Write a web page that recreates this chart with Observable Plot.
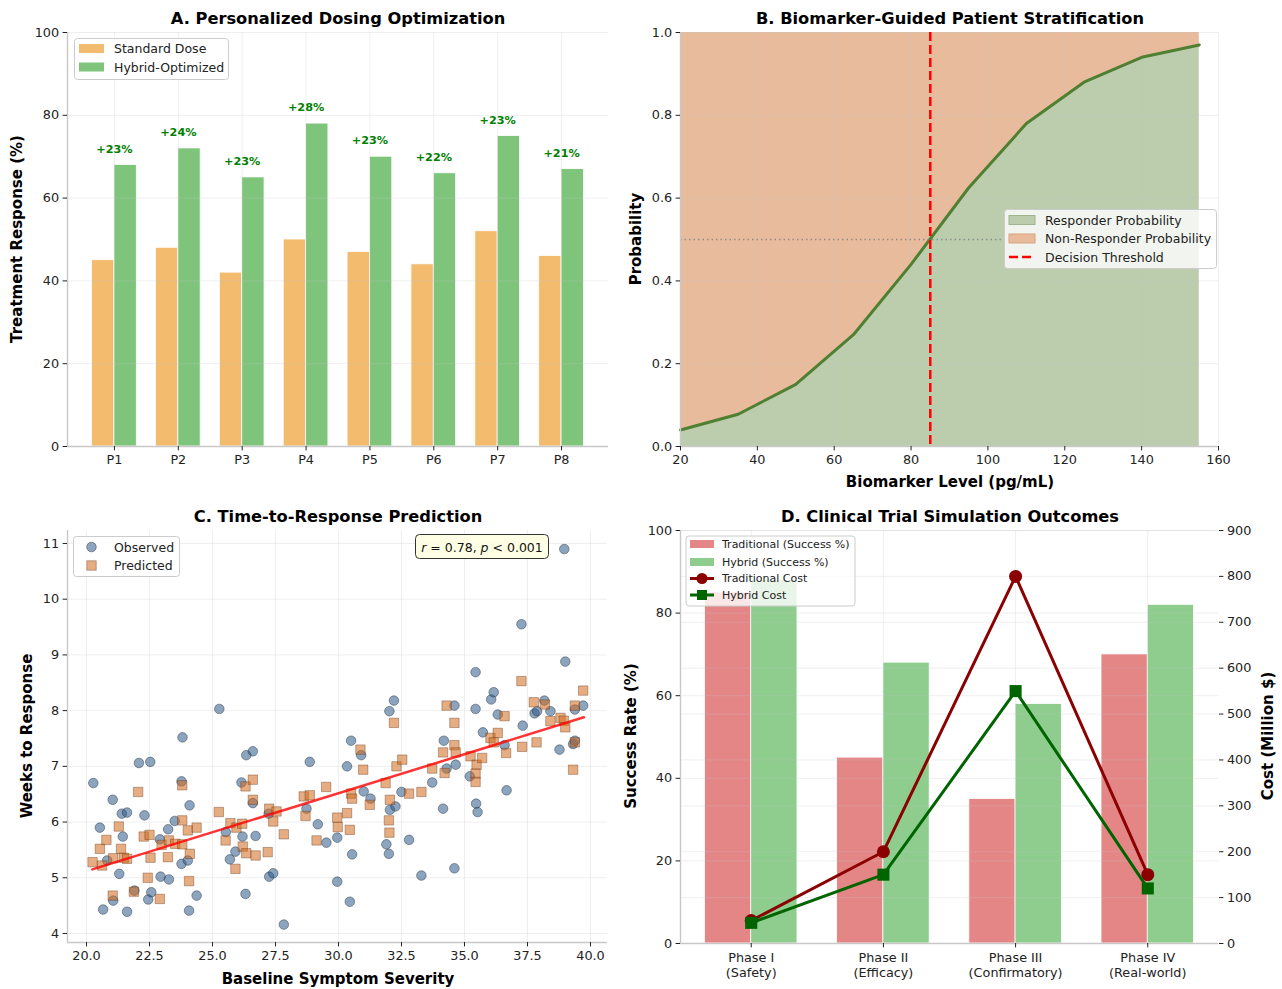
<!DOCTYPE html>
<html><head><meta charset="utf-8">
<script src="https://cdn.jsdelivr.net/npm/d3@7"></script>
<script src="https://cdn.jsdelivr.net/npm/@observablehq/plot@0.6"></script>
<style>
body{margin:0;background:#fff;}
#root{position:relative;width:1282px;height:989px;overflow:hidden;background:#fff;}
</style></head><body><div id="root"></div><script>
// ---------- Panel A data ----------
const patients = ["P1","P2","P3","P4","P5","P6","P7","P8"];
const standardDose = [45,48,42,50,47,44,52,46];
const hybridOptimized = [68,72,65,78,70,66,75,67];
// ---------- Panel B data ----------
const biomarkerLevel = [20,35,50,65,80,95,110,125,140,155];
const responderProb = [0.04,0.078,0.15,0.27,0.44,0.625,0.78,0.88,0.94,0.97];
const decisionThreshold = 85;
// ---------- Panel C data ----------
const observedX = [20.27,20.53,20.66,20.82,21.04,21.06,21.30,21.40,21.44,21.61,
  21.61,21.90,22.08,22.30,22.45,22.53,22.57,22.91,22.94,23.24,
  23.27,23.50,23.77,23.77,23.81,24.09,24.02,24.07,24.37,25.27,
  25.53,25.69,25.91,26.15,26.19,26.31,26.34,26.60,26.60,26.71,
  27.23,27.25,27.41,27.83,28.73,28.86,29.18,29.52,29.95,29.95,
  30.34,30.45,30.50,30.54,30.90,31.00,31.27,31.90,32.00,32.02,
  32.04,32.20,32.26,32.50,32.80,33.29,33.72,34.15,34.18,34.29,
  34.60,34.60,34.65,35.21,35.44,35.44,35.46,35.52,35.73,36.06,
  36.16,36.32,36.59,36.67,37.26,37.31,37.78,37.88,38.17,38.41,
  38.77,38.96,39.00,39.31,39.38,39.38,39.71];
const observedY = [6.70,5.90,4.43,5.31,6.40,4.59,5.07,6.15,5.74,6.17,
  4.39,4.77,7.06,6.12,4.61,7.08,4.74,5.69,5.02,5.87,
  4.97,6.02,5.25,6.73,7.52,6.30,5.31,4.41,4.68,8.03,
  5.82,5.33,5.47,6.71,5.74,4.71,7.20,7.27,6.34,5.75,
  6.15,5.02,5.08,4.16,6.24,7.08,5.96,5.63,5.72,4.93,
  7.00,4.57,7.46,5.42,7.20,6.55,6.42,5.60,5.43,7.99,
  6.22,8.18,6.28,6.54,5.68,5.04,6.71,6.24,7.46,6.96,
  8.09,5.17,7.03,6.82,8.69,8.03,6.33,6.18,7.61,8.20,
  8.33,7.93,7.38,6.57,9.55,7.73,7.95,7.99,8.18,7.99,
  7.30,10.90,8.88,7.40,7.46,8.02,8.09];
const predictedX = [20.24,20.53,20.62,20.79,21.04,21.06,21.28,21.37,21.48,21.61,
  21.88,22.05,22.27,22.50,22.54,22.43,22.91,22.98,23.23,23.27,
  23.52,23.80,23.80,23.80,24.02,24.10,24.07,24.37,25.25,25.52,
  25.71,25.91,25.95,26.18,26.20,26.31,26.34,26.60,26.60,26.71,
  27.19,27.25,27.41,27.54,27.83,28.62,28.86,28.69,29.13,29.51,
  29.95,29.97,30.34,30.45,30.50,30.54,30.87,30.98,31.24,31.87,
  32.04,32.00,32.02,32.20,32.30,32.53,32.80,33.29,33.72,34.15,
  34.21,34.29,34.60,34.60,34.65,35.24,35.48,35.44,35.44,35.70,
  36.03,36.16,36.32,36.59,36.65,37.26,37.29,37.75,37.86,38.19,
  38.41,38.81,38.94,39.00,39.31,39.38,39.38,39.71];
const predictedY = [5.28,5.52,5.22,5.68,4.68,5.35,5.92,5.52,5.36,5.34,
  4.75,6.54,5.74,5.77,5.36,5.00,4.62,5.59,5.37,5.67,
  5.61,5.60,6.03,6.66,5.85,5.43,4.94,5.90,6.18,5.67,
  5.98,5.16,5.90,5.97,5.56,6.64,5.44,6.76,6.40,5.40,
  5.46,6.24,6.01,6.19,5.78,6.46,6.48,6.11,5.67,6.63,
  6.08,5.91,6.16,5.86,6.51,6.42,7.30,6.94,6.31,6.70,
  6.40,6.03,5.81,7.78,7.00,7.12,6.51,6.54,6.96,7.25,
  6.88,8.09,7.78,7.38,7.25,7.18,7.03,6.87,6.72,7.15,
  7.51,7.43,7.60,7.90,7.24,8.53,7.35,8.15,7.43,8.11,
  7.81,7.87,7.82,7.70,6.94,8.09,7.43,8.36];
const trendX = [20.23, 39.74];
const trendY = [5.15, 7.88];
// ---------- Panel D data ----------
const phases = ["Phase I\n(Safety)","Phase II\n(Efficacy)","Phase III\n(Confirmatory)","Phase IV\n(Real-world)"];
const tradSuccess = [85,45,35,70];
const hybridSuccess = [88,68,58,82];
const tradCost = [50,200,800,150];
const hybridCost = [45,150,550,120];

// ---------- helpers ----------
const root = document.getElementById("root");
const FONT = "DejaVu Sans, sans-serif";
function addPlot(plot, left, top){
  plot.style.position = "absolute";
  plot.style.left = left + "px";
  plot.style.top = top + "px";
  root.appendChild(plot);
}
const baseStyle = {fontFamily: FONT, fontSize: "12.8px", color: "#222", background: "transparent", overflow: "visible"};
const grid = {stroke: "#c4c4c4", strokeOpacity: 0.35, strokeWidth: 0.8};
const spine = {stroke: "#c8c8c8", strokeWidth: 1.4};
const tick = {tickSize: 4.4, tickPadding: 4, fontSize: 12.8, label: null};
const BW = 0.35;

// ---------- Panel A ----------
const aRows = patients.map((p, i) => ({i, p, s: standardDose[i], h: hybridOptimized[i]}));
const aX = [-0.735, 7.735];
addPlot(Plot.plot({
  width: 640, height: 490, marginLeft: 67, marginRight: 32, marginTop: 32, marginBottom: 44,
  style: baseStyle,
  x: {domain: aX}, y: {domain: [0, 100]},
  marks: [
    Plot.rect(aRows, {x1: d => d.i - BW, x2: "i", y1: 0, y2: "s", fill: "#f2bb6e", stroke: "#fff", strokeWidth: 0.8}),
    Plot.rect(aRows, {x1: "i", x2: d => d.i + BW, y1: 0, y2: "h", fill: "#7ec57b", stroke: "#fff", strokeWidth: 0.8}),
    Plot.ruleY(d3.range(0, 101, 20), grid),
    Plot.ruleX(aRows, {x: "i", ...grid}),
    Plot.text(aRows, {x: "i", y: d => d.h + 2, dy: -4, text: d => `+${d.h - d.s}%`, lineAnchor: "bottom", fill: "#008000", fontWeight: "bold", fontSize: 11.25}),
    Plot.ruleX([aX[0]], spine),
    Plot.ruleY([0], spine),
    Plot.axisY({...tick, ticks: d3.range(0, 101, 20)}),
    Plot.axisX({...tick, ticks: aRows.map(d => d.i), tickFormat: i => patients[i]})
  ]
}), 0, 0);

// ---------- Panel B ----------
const bRows = biomarkerLevel.map((x, i) => ({x, p: responderProb[i]}));
addPlot(Plot.plot({
  width: 642, height: 490, marginLeft: 40, marginRight: 64, marginTop: 32, marginBottom: 44,
  style: baseStyle,
  x: {domain: [20, 160]}, y: {domain: [0, 1]},
  marks: [
    Plot.areaY(bRows, {x: "x", y1: 0, y2: "p", fill: "#bccdae"}),
    Plot.areaY(bRows, {x: "x", y1: "p", y2: 1, fill: "#e8bb9d"}),
    Plot.ruleY(d3.range(0, 1.01, 0.2), grid),
    Plot.ruleX(d3.range(20, 161, 20), grid),
    Plot.line(bRows, {x: "x", y: "p", stroke: "#4f7f30", strokeWidth: 3}),
    Plot.ruleY([0.5], {stroke: "#808080", strokeOpacity: 0.8, strokeWidth: 1.3, strokeDasharray: "1.5,3"}),
    Plot.ruleX([decisionThreshold], {stroke: "#ff0000", strokeWidth: 2.5, strokeDasharray: "9,4"}),
    Plot.ruleX([20], spine),
    Plot.ruleY([0], spine),
    Plot.axisY({...tick, ticks: d3.range(0, 1.01, 0.2), tickFormat: d3.format(".1f")}),
    Plot.axisX({...tick, ticks: d3.range(20, 161, 20)})
  ]
}), 640, 0);

// ---------- Panel C ----------
const obs = observedX.map((x, i) => ({x, y: observedY[i]}));
const pred = predictedX.map((x, i) => ({x, y: predictedY[i]}));
const trend = trendX.map((x, i) => ({x, y: trendY[i]}));
const cX = [19.246, 40.675], cY = [3.838, 11.233];
addPlot(Plot.plot({
  width: 640, height: 499, marginLeft: 67, marginRight: 33, marginTop: 40, marginBottom: 47,
  style: baseStyle,
  x: {domain: cX}, y: {domain: cY},
  marks: [
    Plot.ruleY(d3.range(4, 11.01, 1), grid),
    Plot.ruleX(d3.range(20, 40.01, 2.5), grid),
    Plot.dot(obs, {x: "x", y: "y", r: 4.8, fill: "#2e5a88", fillOpacity: 0.55, stroke: "#1c2c3c", strokeOpacity: 0.55, strokeWidth: 0.8}),
    Plot.dot(pred, {x: "x", y: "y", symbol: "square", r: 5.3, fill: "#d2691e", fillOpacity: 0.55, stroke: "#5a2a0a", strokeOpacity: 0.45, strokeWidth: 0.8}),
    Plot.line(trend, {x: "x", y: "y", stroke: "#ff0000", strokeOpacity: 0.8, strokeWidth: 2.5}),
    Plot.ruleX([cX[0]], spine),
    Plot.ruleY([cY[0]], spine),
    Plot.axisY({...tick, ticks: d3.range(4, 11.01, 1)}),
    Plot.axisX({...tick, ticks: d3.range(20, 40.01, 2.5), tickFormat: d3.format(".1f")})
  ]
}), 0, 490);

// ---------- Panel D ----------
const dRows = phases.map((p, i) => ({i, p, ts: tradSuccess[i], hs: hybridSuccess[i], tc: tradCost[i], hc: hybridCost[i]}));
const dX = [-0.535, 3.535];
addPlot(Plot.plot({
  width: 642, height: 499, marginLeft: 40, marginRight: 64, marginTop: 40, marginBottom: 46,
  style: baseStyle,
  x: {domain: dX}, y: {domain: [0, 100]},
  marks: [
    Plot.rect(dRows, {x1: d => d.i - BW, x2: "i", y1: 0, y2: "ts", fill: "#e48686", stroke: "#fff", strokeWidth: 0.8}),
    Plot.rect(dRows, {x1: "i", x2: d => d.i + BW, y1: 0, y2: "hs", fill: "#8ecd8e", stroke: "#fff", strokeWidth: 0.8}),
    Plot.ruleY(d3.range(0, 101, 20), grid),
    Plot.ruleX(dRows, {x: "i", ...grid}),
    Plot.ruleX([dX[0]], spine),
    Plot.ruleY([0], spine),
    Plot.axisY({...tick, ticks: d3.range(0, 101, 20)}),
    Plot.axisX({...tick, ticks: dRows.map(d => d.i), tickFormat: i => phases[i], lineHeight: 1.16})
  ]
}), 640, 490);
addPlot(Plot.plot({
  width: 642, height: 499, marginLeft: 40, marginRight: 64, marginTop: 40, marginBottom: 46,
  style: baseStyle,
  x: {domain: dX, axis: null}, y: {domain: [0, 900]},
  marks: [
    Plot.ruleY(d3.range(100, 901, 100), grid),
    Plot.line(dRows, {x: "i", y: "tc", stroke: "#8b0000", strokeWidth: 3}),
    Plot.dot(dRows, {x: "i", y: "tc", r: 6.5, fill: "#8b0000"}),
    Plot.line(dRows, {x: "i", y: "hc", stroke: "#006400", strokeWidth: 3}),
    Plot.dot(dRows, {x: "i", y: "hc", symbol: "square", r: 6.8, fill: "#006400"}),
    Plot.axisY({...tick, anchor: "right", ticks: d3.range(0, 901, 100)})
  ]
}), 640, 490);

// ---------- titles, labels, legends ----------
const svg = d3.select(root).append("svg")
  .attr("width", 1282).attr("height", 989)
  .style("position", "absolute").style("left", "0px").style("top", "0px")
  .style("font-family", FONT).style("pointer-events", "none");
function txt(x, y, s, {size = 15, weight = "bold", rotate = 0, anchor = "middle", fill = "#000"} = {}) {
  const t = svg.append("text").attr("x", x).attr("y", y).attr("text-anchor", anchor)
    .attr("dominant-baseline", "central").attr("font-size", size).attr("font-weight", weight).attr("fill", fill).text(s);
  if (rotate) t.attr("transform", `rotate(${rotate},${x},${y})`);
  return t;
}
txt(338, 18, "A. Personalized Dosing Optimization", {size: 16.25});
txt(950, 18, "B. Biomarker-Guided Patient Stratification", {size: 16.25});
txt(338, 516, "C. Time-to-Response Prediction", {size: 16.25});
txt(950, 516, "D. Clinical Trial Simulation Outcomes", {size: 16.25});
txt(17, 239, "Treatment Response (%)", {rotate: -90});
txt(636, 239, "Probability", {rotate: -90});
txt(950, 482, "Biomarker Level (pg/mL)");
txt(27, 736, "Weeks to Response", {rotate: -90});
txt(338, 979, "Baseline Symptom Severity");
txt(631, 736, "Success Rate (%)", {rotate: -90});
txt(1268, 736, "Cost (Million $)", {rotate: -90});

function box(x, y, w, h) {
  svg.append("rect").attr("x", x).attr("y", y).attr("width", w).attr("height", h).attr("rx", 3)
    .attr("fill", "#fff").attr("fill-opacity", 0.8).attr("stroke", "#cccccc").attr("stroke-width", 1);
}
// Legend A
box(74.5, 38.5, 154, 41);
svg.append("rect").attr("x", 79).attr("y", 44).attr("width", 25).attr("height", 9).attr("fill", "#f2bb6e");
svg.append("rect").attr("x", 79).attr("y", 62.5).attr("width", 25).attr("height", 9).attr("fill", "#7ec57b");
txt(114, 48.5, "Standard Dose", {size: 12.5, weight: "normal", anchor: "start", fill: "#222"});
txt(114, 67, "Hybrid-Optimized", {size: 12.5, weight: "normal", anchor: "start", fill: "#222"});
// Legend B
box(1004.5, 209.5, 212, 59);
svg.append("rect").attr("x", 1009).attr("y", 215.5).attr("width", 26).attr("height", 9).attr("fill", "#bccdae").attr("stroke", "#9fb58c");
svg.append("rect").attr("x", 1009).attr("y", 234).attr("width", 26).attr("height", 9).attr("fill", "#e8bb9d").attr("stroke", "#d9a47f");
svg.append("line").attr("x1", 1009).attr("x2", 1035).attr("y1", 257).attr("y2", 257).attr("stroke", "#ff0000").attr("stroke-width", 2.5).attr("stroke-dasharray", "9,4");
txt(1045, 220, "Responder Probability", {size: 12.5, weight: "normal", anchor: "start", fill: "#222"});
txt(1045, 238.5, "Non-Responder Probability", {size: 12.5, weight: "normal", anchor: "start", fill: "#222"});
txt(1045, 257, "Decision Threshold", {size: 12.5, weight: "normal", anchor: "start", fill: "#222"});
// Legend C
box(73.5, 536.5, 106, 40);
svg.append("circle").attr("cx", 91.5).attr("cy", 547).attr("r", 4.8).attr("fill", "#2e5a88").attr("fill-opacity", 0.55).attr("stroke", "#1c2c3c").attr("stroke-opacity", 0.55).attr("stroke-width", 0.8);
svg.append("rect").attr("x", 86.8).attr("y", 560.8).attr("width", 9.4).attr("height", 9.4).attr("fill", "#d2691e").attr("fill-opacity", 0.55).attr("stroke", "#5a2a0a").attr("stroke-opacity", 0.45).attr("stroke-width", 0.8);
txt(114, 547, "Observed", {size: 12.5, weight: "normal", anchor: "start", fill: "#222"});
txt(114, 565.5, "Predicted", {size: 12.5, weight: "normal", anchor: "start", fill: "#222"});
// Annotation C
svg.append("rect").attr("x", 415.5).attr("y", 534.5).attr("width", 133).attr("height", 24).attr("rx", 4)
  .attr("fill", "#ffffe0").attr("fill-opacity", 0.85).attr("stroke", "#333").attr("stroke-width", 1);
const ann = svg.append("text").attr("x", 482).attr("y", 546.5).attr("text-anchor", "middle")
  .attr("dominant-baseline", "central").attr("font-size", 12.5).attr("fill", "#111");
ann.append("tspan").attr("font-style", "italic").text("r");
ann.append("tspan").text(" = 0.78, ");
ann.append("tspan").attr("font-style", "italic").text("p");
ann.append("tspan").text(" < 0.001");
// Legend D
box(686, 536, 169, 70);
svg.append("rect").attr("x", 690).attr("y", 540).attr("width", 24).attr("height", 8).attr("fill", "#e48686");
svg.append("rect").attr("x", 690).attr("y", 558).attr("width", 24).attr("height", 8).attr("fill", "#8ecd8e");
svg.append("line").attr("x1", 690).attr("x2", 714).attr("y1", 578.5).attr("y2", 578.5).attr("stroke", "#8b0000").attr("stroke-width", 3);
svg.append("circle").attr("cx", 702).attr("cy", 578.5).attr("r", 5.5).attr("fill", "#8b0000");
svg.append("line").attr("x1", 690).attr("x2", 714).attr("y1", 595).attr("y2", 595).attr("stroke", "#006400").attr("stroke-width", 3);
svg.append("rect").attr("x", 697).attr("y", 590).attr("width", 10).attr("height", 10).attr("fill", "#006400");
txt(722, 544, "Traditional (Success %)", {size: 11, weight: "normal", anchor: "start", fill: "#222"});
txt(722, 562, "Hybrid (Success %)", {size: 11, weight: "normal", anchor: "start", fill: "#222"});
txt(722, 578.5, "Traditional Cost", {size: 11, weight: "normal", anchor: "start", fill: "#222"});
txt(722, 595, "Hybrid Cost", {size: 11, weight: "normal", anchor: "start", fill: "#222"});
</script></body></html>
